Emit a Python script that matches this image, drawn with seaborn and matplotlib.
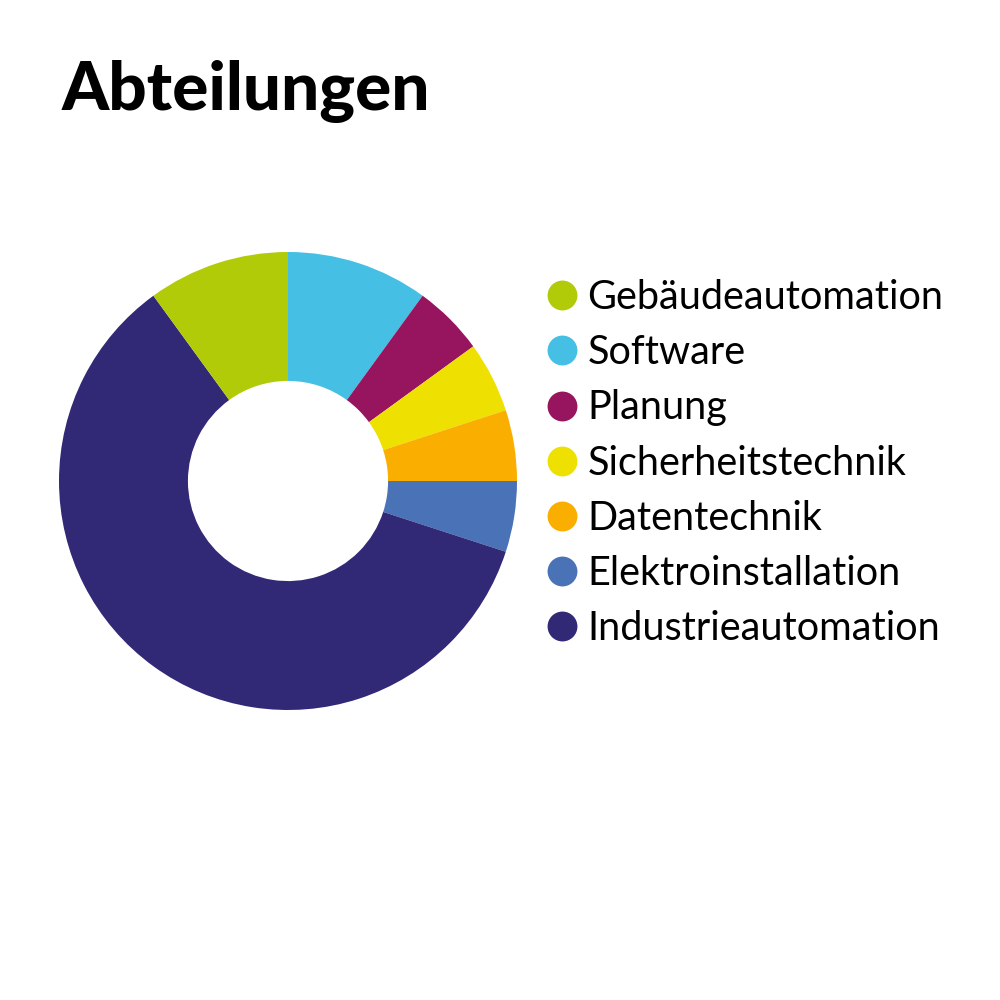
import matplotlib.pyplot as plt
from matplotlib.lines import Line2D
import seaborn as sns

# data (legend order)
labels = ['Gebäudeautomation', 'Software', 'Planung', 'Sicherheitstechnik',
          'Datentechnik', 'Elektroinstallation', 'Industrieautomation']
values = [10, 10, 5, 5, 5, 5, 60]
colors = ['#b2cb09', '#45bfe3', '#97155f', '#eee000', '#f9ae00', '#4a72b6', '#312876']
# clockwise drawing order from 12 o'clock
pie_order = [1, 2, 3, 4, 5, 6, 0]

sns.set_theme(style='white')
plt.rcParams['font.family'] = ['Lato', 'DejaVu Sans']
plt.rcParams['text.color'] = 'black'

fig = plt.figure(figsize=(10, 10), dpi=100)
pal = sns.color_palette(colors)

# donut: center (288,481) px, outer radius 229 px
ax = fig.add_axes([0.059, 0.29, 0.458, 0.458])
ax.pie([values[i] for i in pie_order], colors=[pal[i] for i in pie_order],
       startangle=90, counterclock=False,
       wedgeprops=dict(width=0.563, linewidth=0))
ax.set_xlim(-1, 1)
ax.set_ylim(-1, 1)
ax.set_aspect('equal')
ax.axis('off')

fig.text(0.062, 0.89, 'Abteilungen', fontsize=48.5, fontweight='black',
         color='black', va='baseline', ha='left')

handles = [Line2D([], [], marker='o', linestyle='', markersize=21.5,
                  markerfacecolor=c, markeredgewidth=0) for c in pal]
fig.legend(handles, labels, loc='upper left', bbox_to_anchor=(0.54, 0.721),
           frameon=False, fontsize=28.5, handletextpad=0.1, labelspacing=0.46,
           handlelength=1.1, borderaxespad=0, borderpad=0, labelcolor='black')

plt.savefig('out.png', dpi=100)
